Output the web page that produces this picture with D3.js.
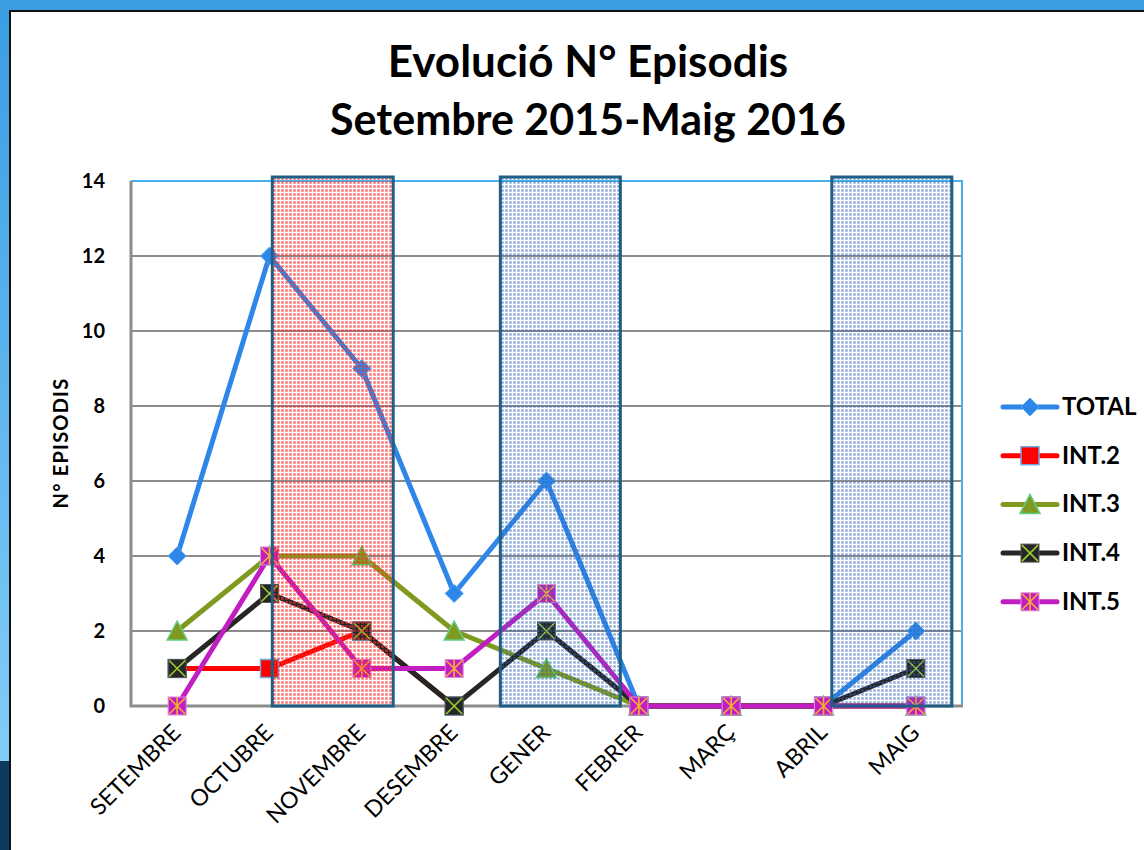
<!DOCTYPE html>
<html>
<head>
<meta charset="utf-8">
<script src="https://cdn.jsdelivr.net/npm/d3@7"></script>
<style>
  body { margin: 0; background: #fff; }
  svg { display: block; }
</style>
</head>
<body>
<script>
// months on the x axis
const months = ["SETEMBRE", "OCTUBRE", "NOVEMBRE", "DESEMBRE", "GENER", "FEBRER", "MARÇ", "ABRIL", "MAIG"];
// series values (null = no point)
const total = [4, 12, 9, 3, 6, 0, 0, 0, 2];
const int2 = [1, 1, 2, 0, null, 0, 0, 0, 0];
const int3 = [2, 4, 4, 2, 1, 0, 0, 0, 0];
const int4 = [1, 3, 2, 0, 2, 0, 0, 0, 1];
const int5 = [0, 4, 1, 1, 3, 0, 0, 0, 0];
const yTicks = [0, 2, 4, 6, 8, 10, 12, 14];
// highlighted periods, in month-index units
const shadeFrom = [1.03, 3.5, 7.09];
const shadeTo = [2.34, 4.8, 8.39];
const shadeKind = ["red", "blue", "blue"];

const W = 1144, H = 850;
const plotL = 131, plotR = 962, plotT = 181, plotB = 706;
const font = "Lato, 'Open Sans', sans-serif";

const svg = d3.select("body").append("svg").attr("width", W).attr("height", H);
const defs = svg.append("defs");

// frame gradient on the left edge
const lg = defs.append("linearGradient").attr("id", "edge").attr("x1", 0).attr("y1", 0).attr("x2", 0).attr("y2", 1);
lg.append("stop").attr("offset", "0%").attr("stop-color", "#3a9de3");
lg.append("stop").attr("offset", "89.5%").attr("stop-color", "#82cdf8");
lg.append("stop").attr("offset", "89.5%").attr("stop-color", "#0b3a5c");
lg.append("stop").attr("offset", "100%").attr("stop-color", "#0b3a5c");

// see-through grid patterns for the shaded periods: tinted cells, clear gaps, dark dots
const makePattern = (id, cell, cellOp, dot, dotOp) => {
  let p = defs.append("pattern").attr("id", id).attr("width", 4).attr("height", 4)
    .attr("patternUnits", "userSpaceOnUse");
  p.append("rect").attr("x", 1).attr("y", 1).attr("width", 3).attr("height", 3).attr("fill", cell).attr("fill-opacity", cellOp);
  p.append("rect").attr("x", 2).attr("y", 2).attr("width", 1).attr("height", 1).attr("fill", dot).attr("fill-opacity", dotOp);
};
makePattern("pRed", "#ff3030", 0.45, "#e01010", 0.5);
makePattern("pBlue", "#3366b8", 0.34, "#2a559c", 0.45);

svg.append("rect").attr("width", W).attr("height", H).attr("fill", "#fff");
svg.append("rect").attr("x", 0).attr("y", 0).attr("width", W).attr("height", 10).attr("fill", "#3a9de3");
svg.append("rect").attr("x", 0).attr("y", 0).attr("width", 9).attr("height", H).attr("fill", "url(#edge)");
svg.append("line").attr("x1", 10).attr("x2", W).attr("y1", 11).attr("y2", 11).attr("stroke", "#111").attr("stroke-width", 2);
svg.append("line").attr("x1", 10).attr("x2", 10).attr("y1", 10).attr("y2", H).attr("stroke", "#111").attr("stroke-width", 2);

// title
const title = svg.append("text").attr("text-anchor", "middle").attr("font-family", font)
  .attr("font-weight", "bold").attr("font-size", 44).attr("fill", "#000");
title.append("tspan").attr("x", 588).attr("y", 77).text("Evolució N° Episodis");
title.append("tspan").attr("x", 588).attr("y", 135).attr("font-size", 43).text("Setembre 2015-Maig 2016");

// scales
const x = d3.scalePoint().domain(months).range([plotL, plotR]).padding(0.5);
const xi = d3.scaleLinear().domain([-0.5, months.length - 0.5]).range([plotL, plotR]);
const y = d3.scaleLinear().domain([0, 14]).range([plotB, plotT]);

const g = svg.append("g");

// gridlines
g.selectAll("line.grid").data(yTicks.filter(d => d > 0 && d < 14)).enter().append("line")
  .attr("x1", plotL).attr("x2", plotR).attr("y1", d => y(d)).attr("y2", d => y(d))
  .attr("stroke", "#8c8c8c").attr("stroke-width", 2);
// plot border (top / right light blue)
g.append("path").attr("d", `M${plotL},${y(14)}H${plotR}V${plotB}`)
  .attr("fill", "none").attr("stroke", "#45b0ea").attr("stroke-width", 2);
g.append("path").attr("d", `M${plotL},${y(14)}V${plotB}H${plotR + 1}`)
  .attr("fill", "none").attr("stroke", "#8c8c8c").attr("stroke-width", 3);

// y tick labels
g.selectAll("text.ytick").data(yTicks).enter().append("text")
  .attr("x", 105).attr("y", d => y(d) + 7).attr("text-anchor", "end")
  .attr("font-family", font).attr("font-weight", "bold").attr("font-size", 20).text(d => d);

// y axis title
svg.append("text").attr("transform", "translate(68,443) rotate(-90)").attr("text-anchor", "middle")
  .attr("font-family", font).attr("font-weight", "bold").attr("font-size", 20)
  .attr("letter-spacing", 1.2).text("N° EPISODIS");

// x labels
g.selectAll("text.xlab").data(months).enter().append("text")
  .attr("transform", d => `translate(${x(d) + 5},${plotB + 28}) rotate(-45)`)
  .attr("text-anchor", "end").attr("font-family", font).attr("font-size", 23).text(d => d);

// series
const series = [
  { name: "TOTAL", values: total, color: "#2e86e8", marker: "diamond" },
  { name: "INT.2", values: int2, color: "#ff0000", marker: "square" },
  { name: "INT.3", values: int3, color: "#7f9a1f", marker: "triangle" },
  { name: "INT.4", values: int4, color: "#262626", marker: "cross" },
  { name: "INT.5", values: int5, color: "#c01ec0", marker: "star" }
];

const drawMarker = (sel, kind) => {
  if (kind === "diamond") {
    sel.append("path").attr("d", "M0,-9L9,0L0,9L-9,0Z").attr("fill", "#2e86e8").attr("stroke", "#4aa8f0").attr("stroke-width", 1);
  } else if (kind === "square") {
    sel.append("rect").attr("x", -9).attr("y", -9).attr("width", 18).attr("height", 18)
      .attr("fill", "#ff0000").attr("stroke", "#6fa8dc").attr("stroke-width", 1.5);
  } else if (kind === "triangle") {
    sel.append("path").attr("d", "M0,-10L10,9L-10,9Z").attr("fill", "#7f9a1f").attr("stroke", "#5fcf7f").attr("stroke-width", 1.5);
  } else if (kind === "cross") {
    sel.append("rect").attr("x", -9).attr("y", -9).attr("width", 18).attr("height", 18)
      .attr("fill", "#262626").attr("stroke", "#555").attr("stroke-width", 1);
    sel.append("path").attr("d", "M-8,-8L8,8M8,-8L-8,8").attr("stroke", "#9acd32").attr("stroke-width", 1.6);
  } else if (kind === "star") {
    sel.append("rect").attr("x", -9).attr("y", -9).attr("width", 18).attr("height", 18)
      .attr("fill", "#c01ec0").attr("stroke", "#e28ae2").attr("stroke-width", 1);
    sel.append("path").attr("d", "M-8,-8L8,8M8,-8L-8,8M0,-9V9").attr("stroke", "#f5b030").attr("stroke-width", 1.6);
  }
};

const line = d3.line().defined(d => d !== null).x((d, i) => x(months[i])).y(d => y(d));

series.forEach(s => {
  g.append("path").datum(s.values).attr("d", line).attr("fill", "none")
    .attr("stroke", s.color).attr("stroke-width", 5).attr("stroke-linejoin", "round");
  g.selectAll(null).data(s.values.map((v, i) => ({ v, i })).filter(d => d.v !== null)).enter().append("g")
    .attr("transform", d => `translate(${x(months[d.i])},${y(d.v)})`)
    .each(function () { drawMarker(d3.select(this), s.marker); });
});

// shaded periods drawn over the lines
g.selectAll("rect.shade").data(shadeFrom).enter().append("rect")
  .attr("x", d => xi(d)).attr("y", y(14) - 4)
  .attr("width", (d, i) => xi(shadeTo[i]) - xi(d)).attr("height", plotB - y(14) + 4)
  .attr("fill", (d, i) => shadeKind[i] === "red" ? "url(#pRed)" : "url(#pBlue)")
  .attr("stroke", "#1f5f86").attr("stroke-width", 3);

// legend
const leg = svg.append("g");
series.forEach((s, i) => {
  let ly = 407 + i * 48.7;
  leg.append("line").attr("x1", 1003).attr("x2", 1057).attr("y1", ly).attr("y2", ly)
    .attr("stroke", s.color).attr("stroke-width", 5).attr("stroke-linecap", "round");
  drawMarker(leg.append("g").attr("transform", `translate(1030,${ly})`), s.marker);
  leg.append("text").attr("x", 1062).attr("y", ly + 8).attr("font-family", font)
    .attr("font-weight", "bold").attr("font-size", 24).text(s.name);
});
</script>
</body>
</html>
